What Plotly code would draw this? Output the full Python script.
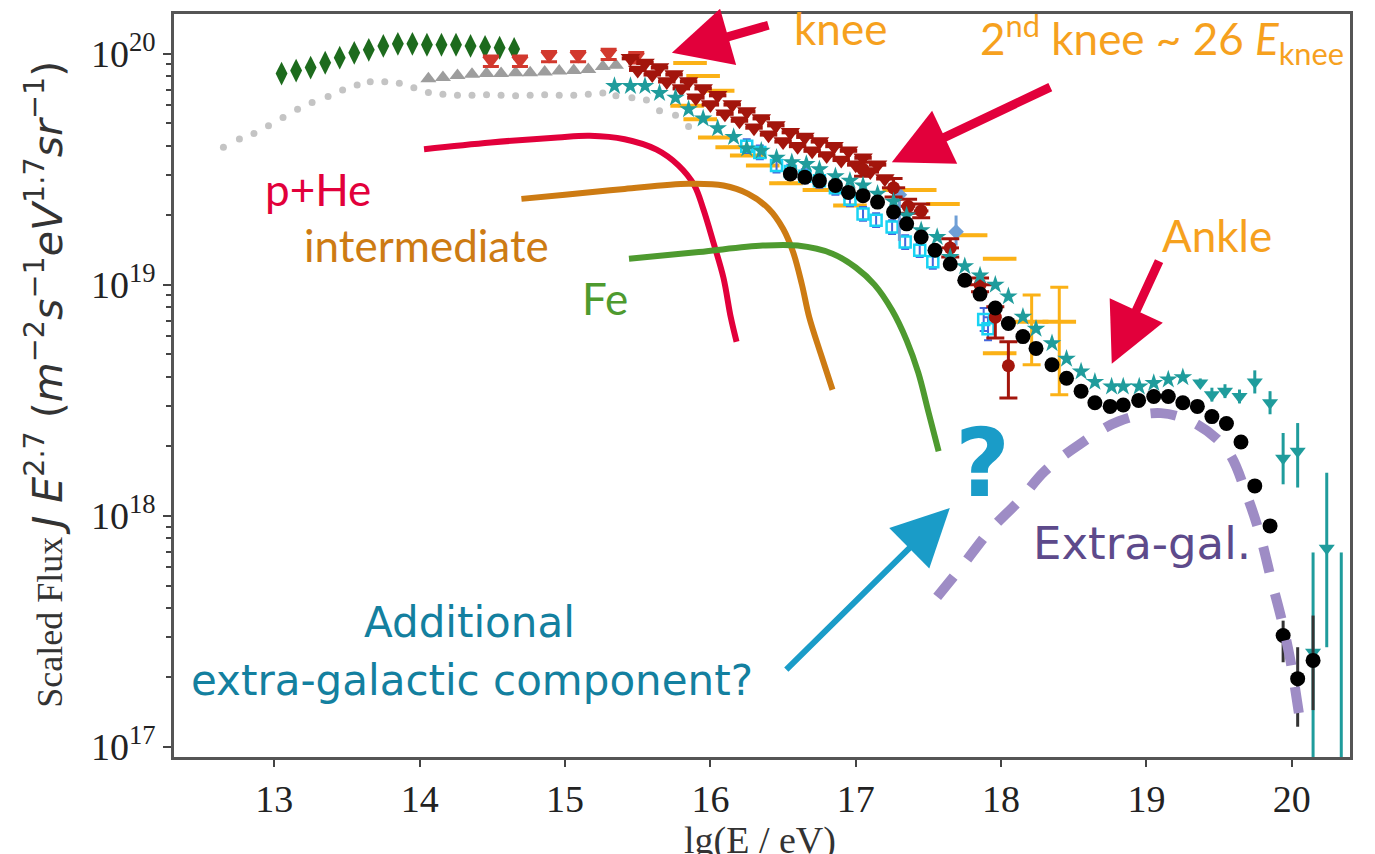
import numpy as np
import plotly.graph_objects as go

# ---------------- data: x = lg(E/eV), y = log10(J E^2.7) ----------------
gray_dot_lgE = [12.65, 12.76, 12.86, 12.96, 13.06, 13.16, 13.26, 13.37, 13.47, 13.57,
                13.66, 13.76, 13.86, 13.96, 14.06, 14.16, 14.26, 14.36, 14.46, 14.56,
                14.66, 14.76, 14.86, 14.96, 15.06, 15.16, 15.26, 15.35, 15.46, 15.56,
                15.65, 15.76, 15.85]
gray_dot_logJ = [19.595, 19.631, 19.655, 19.688, 19.724, 19.760, 19.789, 19.815, 19.843, 19.865,
                 19.879, 19.879, 19.872, 19.853, 19.832, 19.825, 19.820, 19.820, 19.823, 19.820,
                 19.818, 19.820, 19.823, 19.820, 19.820, 19.825, 19.830, 19.818, 19.810, 19.800,
                 19.753, 19.734, 19.685]

gray_tri_lgE = [14.06, 14.16, 14.26, 14.36, 14.46, 14.56, 14.66, 14.76, 14.86, 14.96, 15.06, 15.16, 15.26, 15.35]
gray_tri_logJ = [19.892, 19.897, 19.906, 19.911, 19.915, 19.915, 19.918, 19.918, 19.921, 19.925, 19.928, 19.932, 19.945, 19.950]

green_lgE = [13.05, 13.15, 13.25, 13.35, 13.45, 13.55, 13.65, 13.75, 13.85, 13.95, 14.05, 14.15, 14.25, 14.35, 14.45, 14.55, 14.65]
green_logJ = [19.914, 19.927, 19.940, 19.961, 19.983, 20.004, 20.017, 20.034, 20.043, 20.043,
              20.039, 20.039, 20.039, 20.034, 20.030, 20.026, 20.021]

red_tri_lgE = [14.49, 14.69, 14.89, 15.09, 15.30, 15.49]
red_tri_logJ = [19.97, 19.97, 19.99, 19.99, 20.00, 19.985]

darkred_a_lgE = [15.45, 15.55, 15.65, 15.75, 15.85, 15.95, 16.05, 16.15, 16.25, 16.35, 16.45, 16.55, 16.65, 16.75, 16.85, 16.95, 17.05, 17.15]
darkred_a_logJ = [19.98, 19.96, 19.94, 19.91, 19.88, 19.85, 19.82, 19.78, 19.75, 19.72, 19.69, 19.66, 19.64, 19.62, 19.60, 19.58, 19.55, 19.52]
darkred_b_lgE = [15.50, 15.60, 15.70, 15.80, 15.90, 16.00, 16.10, 16.20, 16.30, 16.40, 16.50, 16.60, 16.70, 16.80, 16.90, 17.00, 17.10, 17.20]
darkred_b_logJ = [19.93, 19.91, 19.88, 19.85, 19.81, 19.78, 19.74, 19.71, 19.68, 19.65, 19.62, 19.60, 19.58, 19.56, 19.54, 19.52, 19.49, 19.46]

darkred_c_lgE = [17.05, 17.26, 17.36, 17.45, 17.65, 17.855, 17.96, 18.05]
darkred_c_logJ = [19.50, 19.42, 19.34, 19.32, 19.16, 19.00, 18.86, 18.65]
darkred_c_up = [0.03, 0.04, 0.03, 0.03, 0.04, 0.03, 0.045, 0.104]
darkred_c_dn = [0.03, 0.04, 0.03, 0.03, 0.04, 0.03, 0.09, 0.14]
darkred_c_dx = [0.0, 0.08, 0.05, 0.05, 0.06, 0.11, 0.0, 0.0]

teal_lgE = [15.34, 15.45, 15.55, 15.65, 15.76, 15.85, 15.95, 16.05, 16.16, 16.25,
            16.35, 16.455, 16.56, 16.66, 16.75, 16.86, 16.96, 17.05, 17.15, 17.26,
            17.35, 17.45, 17.56, 17.65, 17.75, 17.855, 17.96, 18.05, 18.15, 18.24,
            18.35, 18.45, 18.55, 18.645, 18.76, 18.84, 18.95, 19.05, 19.15, 19.25,
            19.37, 19.45, 19.54, 19.64, 19.745, 19.85, 19.94, 20.04, 20.146, 20.24,
            20.34]
teal_logJ = [19.86, 19.86, 19.86, 19.83, 19.81, 19.76, 19.72, 19.677, 19.64, 19.59,
             19.58, 19.55, 19.53, 19.523, 19.50, 19.47, 19.45, 19.43, 19.394, 19.36,
             19.30, 19.236, 19.207, 19.12, 19.08, 19.04, 19.00, 18.95, 18.862, 18.81,
             18.747, 18.68, 18.625, 18.58, 18.56, 18.56, 18.56, 18.575, 18.59, 18.60,
             18.575, 18.525, 18.54, 18.517, 18.58, 18.49, 18.25, 18.28, 17.41, 17.86,
             16.90]
teal_up = [0.0] * 40 + [0.02, 0.03, 0.03, 0.03, 0.05, 0.05, 0.109, 0.122, 0.432, 0.327, 0.942]
teal_dn = [0.0] * 40 + [0.02, 0.03, 0.03, 0.03, 0.05, 0.05, 0.113, 0.157, 0.51, 0.428, 0.0]

black_lgE = [16.55, 16.65, 16.75, 16.86, 16.95, 17.05, 17.15, 17.26, 17.35, 17.45,
             17.545, 17.65, 17.75, 17.855, 17.96, 18.05, 18.15, 18.24, 18.35, 18.45,
             18.55, 18.645, 18.75, 18.84, 18.946, 19.05, 19.15, 19.25, 19.35, 19.45,
             19.55, 19.65, 19.745, 19.85, 19.94, 20.04, 20.146]
black_logJ = [19.48, 19.466, 19.45, 19.43, 19.40, 19.386, 19.358, 19.315, 19.264, 19.207,
              19.15, 19.09, 19.02, 18.96, 18.90, 18.833, 18.776, 18.725, 18.654, 18.596,
              18.54, 18.49, 18.474, 18.48, 18.50, 18.517, 18.517, 18.49, 18.474, 18.43,
              18.40, 18.32, 18.13, 17.957, 17.483, 17.296, 17.375]
black_up = [0.0] * 33 + [0.02, 0.064, 0.136, 0.194]
black_dn = [0.0] * 33 + [0.02, 0.116, 0.208, 0.215]

blue_lgE = [16.25, 16.34, 16.455, 16.55, 16.65, 16.75, 16.86, 16.96, 17.05, 17.14, 17.25, 17.34, 17.44, 17.53, 17.88, 17.91]
blue_logJ = [19.60, 19.573, 19.516, 19.49, 19.47, 19.45, 19.42, 19.37, 19.307, 19.28, 19.25, 19.185, 19.15, 19.10, 18.85, 18.81]
blue_err = [0.03] * 14 + [0.05, 0.05]

steel_lgE = [17.30, 17.69]
steel_logJ = [19.39, 19.23]
steel_up = [0.025, 0.07]
steel_dn = [0.2, 0.06]

orange_lgE = [15.86, 15.95, 16.05, 15.84, 15.93, 16.03, 16.15, 16.25, 16.36, 16.52,
              16.75, 16.96, 17.30, 17.44, 17.60, 17.79, 17.99, 17.99, 18.21, 18.40]
orange_logJ = [19.96, 19.904, 19.84, 19.775, 19.717, 19.638, 19.595, 19.56, 19.516, 19.44,
               19.41, 19.343, 19.41, 19.41, 19.35, 19.215, 19.113, 18.704, 18.84, 18.84]
orange_up = [0.0] * 18 + [0.116, 0.15]
orange_dn = [0.0] * 18 + [0.186, 0.315]

# schematic component curves
pHe_lgE = [14.03, 14.49, 14.95, 15.17, 15.41, 15.63, 15.78, 15.89, 15.95, 16.02, 16.09, 16.14, 16.18]
pHe_logJ = [19.587, 19.616, 19.638, 19.645, 19.63, 19.585, 19.517, 19.43, 19.33, 19.185, 19.03, 18.86, 18.754]
inter_lgE = [14.70, 15.00, 15.41, 15.85, 16.09, 16.26, 16.40, 16.50, 16.57, 16.63, 16.68, 16.76, 16.84]
inter_logJ = [19.372, 19.39, 19.415, 19.437, 19.43, 19.394, 19.33, 19.243, 19.14, 19.00, 18.86, 18.70, 18.546]
fe_lgE = [15.44, 15.92, 16.36, 16.60, 16.84, 17.00, 17.13, 17.25, 17.35, 17.43, 17.50, 17.57]
fe_logJ = [19.113, 19.142, 19.17, 19.17, 19.135, 19.075, 19.00, 18.89, 18.76, 18.62, 18.45, 18.28]
xgal_lgE = [17.56, 17.74, 17.92, 18.13, 18.30, 18.54, 18.81, 19.10, 19.35, 19.56, 19.69, 19.78, 19.86, 19.93, 19.99, 20.05]
xgal_logJ = [17.65, 17.79, 17.935, 18.07, 18.194, 18.31, 18.41, 18.445, 18.395, 18.28, 18.09, 17.92, 17.72, 17.55, 17.375, 17.14]

x_ticks = [13, 14, 15, 16, 17, 18, 19, 20]
y_tick_exp = [17, 18, 19, 20]


def J(v):
    return 10 ** np.asarray(v, dtype=float)


def err(v, up, dn):
    v = np.asarray(v, float)
    return dict(type="data", symmetric=False,
                array=J(v + np.asarray(up)) - J(v),
                arrayminus=J(v) - J(v - np.asarray(dn)))


fig = go.Figure()

fig.add_trace(go.Scatter(x=gray_dot_lgE, y=J(gray_dot_logJ), mode="markers",
                         marker=dict(symbol="circle", size=7, color="#c4c4c4")))
fig.add_trace(go.Scatter(x=gray_tri_lgE, y=J(gray_tri_logJ), mode="markers",
                         marker=dict(symbol="triangle-up", size=14, color="#9d9d9d")))
fig.add_trace(go.Scatter(x=green_lgE, y=J(green_logJ), mode="markers",
                         marker=dict(symbol="diamond-tall", size=17, color="#1d6b1d")))
fig.add_trace(go.Scatter(x=red_tri_lgE, y=J(red_tri_logJ), mode="markers",
                         error_y=dict(err(red_tri_logJ, [0.02] * 6, [0.025] * 6), color="#d2392e", thickness=3, width=8),
                         marker=dict(symbol="triangle-down", size=15, color="#d2392e")))
fig.add_trace(go.Scatter(x=orange_lgE, y=J(orange_logJ), mode="markers",
                         error_y=dict(err(orange_logJ, orange_up, orange_dn), color="#fbb116", thickness=3, width=9),
                         marker=dict(symbol="line-ew", size=24, line=dict(width=4, color="#fbb116"))))
fig.add_trace(go.Scatter(x=blue_lgE, y=J(blue_logJ), mode="markers",
                         error_y=dict(err(blue_logJ, blue_err, blue_err), color="#4467dc", thickness=2, width=4),
                         marker=dict(symbol="square-open", size=11, line=dict(width=2.5, color="#4467dc"))))
for xs, ys in ((darkred_a_lgE, darkred_a_logJ), (darkred_b_lgE, darkred_b_logJ)):
    fig.add_trace(go.Scatter(x=xs, y=J(ys), mode="markers",
                             error_x=dict(type="constant", value=0.06, color="#a3150c", thickness=4, width=0),
                             marker=dict(symbol="triangle-down", size=17, color="#a3150c")))
fig.add_trace(go.Scatter(x=steel_lgE, y=J(steel_logJ), mode="markers",
                         error_y=dict(err(steel_logJ, steel_up, steel_dn), color="#6f9fd6", thickness=3, width=0),
                         marker=dict(symbol="diamond", size=12, color="#6f9fd6")))
fig.add_trace(go.Scatter(x=darkred_c_lgE, y=J(darkred_c_logJ), mode="markers",
                         error_y=dict(err(darkred_c_logJ, darkred_c_up, darkred_c_dn), color="#a3150c", thickness=3, width=9),
                         error_x=dict(type="data", array=darkred_c_dx, color="#a3150c", thickness=3, width=0),
                         marker=dict(symbol="circle", size=13, color="#a3150c")))
teal_symbols = ["star"] * 40 + ["triangle-down"] * 11
fig.add_trace(go.Scatter(x=teal_lgE, y=J(teal_logJ), mode="markers",
                         error_y=dict(err(teal_logJ, teal_up, teal_dn), color="#1f9c9c", thickness=3, width=0),
                         marker=dict(symbol=teal_symbols, size=14, color="#1f9c9c")))
fig.add_trace(go.Scatter(x=black_lgE, y=J(black_logJ), mode="markers",
                         error_y=dict(err(black_logJ, black_up, black_dn), color="#333333", thickness=3, width=0),
                         marker=dict(symbol="circle", size=15, color="#000000")))

for xs, ys, col in ((pHe_lgE, pHe_logJ, "#e2003b"), (inter_lgE, inter_logJ, "#cd7b13"), (fe_lgE, fe_logJ, "#4e9a2f")):
    fig.add_trace(go.Scatter(x=xs, y=J(ys), mode="lines", line=dict(color=col, width=6, shape="spline", smoothing=1.0)))
fig.add_trace(go.Scatter(x=xgal_lgE, y=J(xgal_logJ), mode="lines",
                         line=dict(color="#9e8cc5", width=10, dash="26px,22px", shape="spline", smoothing=1.0)))

# ---------------- annotations ----------------
ORANGE = "#f6a11e"
RED = "#e2003b"
TXT = "Lato"
ann = []


def text(s, x, y, color, size, family=TXT):
    ann.append(dict(x=x, y=y, xref="x", yref="y", text=s, showarrow=False,
                    font=dict(family=family, size=size, color=color), xanchor="center", yanchor="middle"))


def arrow(x, y, ax, ay, color, width, size):
    ann.append(dict(x=x, y=y, xref="x", yref="y", text="", showarrow=True, arrowhead=2,
                    arrowsize=size, arrowwidth=width, arrowcolor=color,
                    ax=ax, ay=ay, axref="pixel", ayref="pixel"))


text("knee", 16.892, 20.112, ORANGE, 44)
text("2<sup>nd</sup> knee ~ 26 <i>E</i><sub>knee</sub>", 19.106, 20.06, ORANGE, 44)
text("Ankle", 19.483, 19.216, ORANGE, 44)
text("p+He", 13.30, 19.414, "#e2003b", 44)
text("intermediate", 14.044, 19.172, "#cd7b13", 44)
text("Fe", 15.275, 18.944, "#4e9a2f", 44)
text("Extra-gal.", 18.968, 17.879, "#5d4a8b", 45, "DejaVu Sans")
text("Additional", 14.346, 17.539, "#13809f", 42, "DejaVu Sans")
text("extra-galactic component?", 14.36, 17.289, "#13809f", 42, "DejaVu Sans")
text("<b>?</b>", 17.874, 18.228, "#1a9cc8", 95, "DejaVu Sans")

arrow(15.735, 20.004, 98, -28, RED, 9, 1.3)
arrow(17.248, 19.530, 160, -76, RED, 9, 1.3)
arrow(18.761, 18.659, 48, -104, RED, 9, 1.3)
arrow(17.647, 18.034, -165, 163, "#1a9cc8", 6, 1.9)

# axis titles
ann.append(dict(x=-0.1105, y=0.501, xref="paper", yref="paper", textangle=-90, showarrow=False,
                xanchor="center", yanchor="middle",
                font=dict(family="Liberation Serif", size=36, color="#333333"),
                text="Scaled Flux <span style='font-family:DejaVu Sans;font-size:41px'><i>J E</i><sup>2.7</sup> "
                     "(<i>m</i><sup>−2</sup><i>s</i><sup>−1</sup><i>eV</i><sup>1.7</sup>"
                     "<i>sr</i><sup>−1</sup>)</span>"))
ann.append(dict(x=0.498, y=-0.113, xref="paper", yref="paper", showarrow=False,
                xanchor="center", yanchor="middle",
                font=dict(family="Liberation Serif", size=38, color="#333333"),
                text="lg(E / eV)"))

minor_vals = [k * 10.0 ** e for e in (17, 18, 19) for k in range(2, 10)]

fig.update_layout(
    width=1375, height=854,
    margin=dict(l=174, r=25, t=11, b=97),
    paper_bgcolor="white", plot_bgcolor="white",
    showlegend=False,
    annotations=ann,
    xaxis=dict(range=[12.31, 20.40], tickmode="array", tickvals=x_ticks,
               ticktext=[str(t) for t in x_ticks],
               ticks="outside", ticklen=7, tickwidth=2, tickcolor="#444444",
               showline=True, linecolor="#555555", linewidth=2.5, mirror=True,
               showgrid=False, zeroline=False,
               tickfont=dict(family="Liberation Serif", size=38, color="#222222")),
    yaxis=dict(type="log", range=[16.957, 20.172], tickmode="array",
               tickvals=[10.0 ** e for e in y_tick_exp],
               ticktext=["10<sup>%d</sup>" % e for e in y_tick_exp],
               ticks="outside", ticklen=8, tickwidth=2, tickcolor="#444444",
               showline=True, linecolor="#555555", linewidth=2.5, mirror=True,
               showgrid=False, zeroline=False,
               tickfont=dict(family="Liberation Serif", size=38, color="#222222"),
               minor=dict(tickmode="array", tickvals=minor_vals, ticks="outside",
                          ticklen=5, tickwidth=1.5, tickcolor="#444444", showgrid=False)),
)

fig.write_html("out.html")
